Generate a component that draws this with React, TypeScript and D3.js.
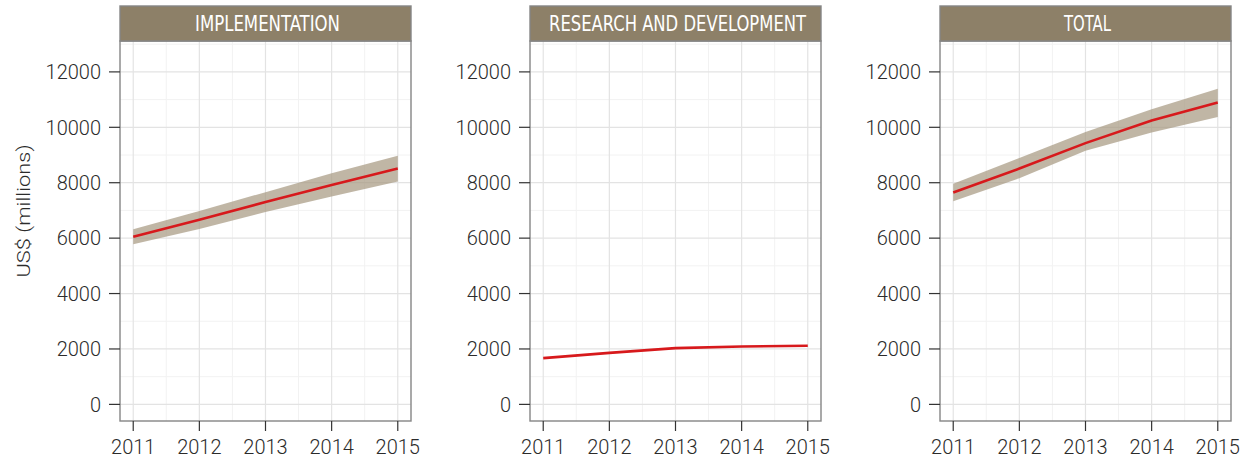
import React from "react";
import * as d3 from "d3";

const years = [2011, 2012, 2013, 2014, 2015];
const panelTitles = ["IMPLEMENTATION", "RESEARCH AND DEVELOPMENT", "TOTAL"];
const implValue = [6050, 6660, 7300, 7920, 8510];
const implLower = [5780, 6330, 6940, 7500, 8040];
const implUpper = [6320, 6980, 7660, 8340, 8970];
const rdValue = [1670, 1860, 2030, 2090, 2115];
const rdLower = [1670, 1860, 2030, 2090, 2115];
const rdUpper = [1670, 1860, 2030, 2090, 2115];
const totalValue = [7645, 8510, 9430, 10245, 10895];
const totalLower = [7330, 8165, 9150, 9810, 10370];
const totalUpper = [7960, 8890, 9835, 10655, 11390];
const yTicks = [0, 2000, 4000, 6000, 8000, 10000, 12000];
const yMinor = [1000, 3000, 5000, 7000, 9000, 11000, 13000];
const xMinor = [2011.5, 2012.5, 2013.5, 2014.5];
const yTitle = "US$ (millions)";

const W = 1252;
const H = 463;
const panelLefts = [120, 530, 940];
const panelW = 291;
const stripTop = 6;
const plotTop = 41;
const plotBottom = 421;
const stripTextLen = [145, 257, 47];

const series = [
  { v: implValue, lo: implLower, hi: implUpper, band: true },
  { v: rdValue, lo: rdLower, hi: rdUpper, band: false },
  { v: totalValue, lo: totalLower, hi: totalUpper, band: true },
];

export default function App() {
  const y = d3.scaleLinear().domain([-600, 13115]).range([plotBottom, plotTop]);
  const font = "Roboto, 'Liberation Sans', Arial, sans-serif";
  const textCol = "#2b2b2b";
  return (
    <svg width={W} height={H} style={{ position: "absolute", left: 0, top: 0, background: "#fff" }}>
      <text
        transform={`translate(30,211) rotate(-90)`}
        textAnchor="middle"
        fontFamily={font}
        fontWeight={300}
        fontSize={19}
        fill={textCol}
        textLength={133}
        lengthAdjust="spacingAndGlyphs"
      >
        {yTitle}
      </text>
      {panelTitles.map((title, pi) => {
        const left = panelLefts[pi];
        const x = d3.scaleLinear().domain([2010.8, 2015.2]).range([left, left + panelW]);
        const s = series[pi];
        const data = years.map((yr, i) => ({ yr, v: s.v[i], lo: s.lo[i], hi: s.hi[i] }));
        const line = d3.line<any>().x((d) => x(d.yr)).y((d) => y(d.v));
        const area = d3
          .area<any>()
          .x((d) => x(d.yr))
          .y0((d) => y(d.lo))
          .y1((d) => y(d.hi));
        return (
          <g key={title}>
            <rect x={left} y={plotTop} width={panelW} height={plotBottom - plotTop} fill="#fff" />
            {yMinor.map((t) => (
              <line key={"ym" + t} x1={left} x2={left + panelW} y1={y(t)} y2={y(t)} stroke="#f2f2f2" strokeWidth={1} />
            ))}
            {xMinor.map((t) => (
              <line key={"xm" + t} x1={x(t)} x2={x(t)} y1={plotTop} y2={plotBottom} stroke="#f2f2f2" strokeWidth={1} />
            ))}
            {yTicks.map((t) => (
              <line key={"yg" + t} x1={left} x2={left + panelW} y1={y(t)} y2={y(t)} stroke="#e3e3e3" strokeWidth={1.2} />
            ))}
            {years.map((t) => (
              <line key={"xg" + t} x1={x(t)} x2={x(t)} y1={plotTop} y2={plotBottom} stroke="#e3e3e3" strokeWidth={1.2} />
            ))}
            {s.band && <path d={area(data) || ""} fill="#a89a82" fillOpacity={0.72} />}
            <path d={line(data) || ""} fill="none" stroke="#d7191c" strokeWidth={2.6} />
            <rect
              x={left}
              y={plotTop}
              width={panelW}
              height={plotBottom - plotTop}
              fill="none"
              stroke="#858585"
              strokeWidth={1.4}
            />
            <rect
              x={left}
              y={stripTop}
              width={panelW}
              height={plotTop - stripTop}
              fill="#8d8068"
              stroke="#858585"
              strokeWidth={1.4}
            />
            <text
              x={left + panelW / 2 + 2}
              y={31}
              textAnchor="middle"
              fontFamily="'DejaVu Sans Condensed', 'DejaVu Sans', sans-serif"
              fontStretch="condensed"
              fontSize={22}
              fill="#fff"
              textLength={stripTextLen[pi]}
              lengthAdjust="spacingAndGlyphs"
            >
              {title}
            </text>
            {yTicks.map((t) => (
              <g key={"yt" + t}>
                <line x1={left - 11} x2={left} y1={y(t)} y2={y(t)} stroke="#333" strokeWidth={1.2} />
                <text
                  x={left - 19}
                  y={y(t)}
                  dy="0.36em"
                  textAnchor="end"
                  fontFamily={font}
                  fontWeight={300}
                  fontSize={20}
                  fill={textCol}
                >
                  {t}
                </text>
              </g>
            ))}
            {years.map((t) => (
              <g key={"xt" + t}>
                <line x1={x(t)} x2={x(t)} y1={plotBottom} y2={plotBottom + 10} stroke="#333" strokeWidth={1.2} />
                <text
                  x={x(t)}
                  y={454}
                  textAnchor="middle"
                  fontFamily={font}
                  fontWeight={300}
                  fontSize={20}
                  fill={textCol}
                >
                  {t}
                </text>
              </g>
            ))}
          </g>
        );
      })}
    </svg>
  );
}
